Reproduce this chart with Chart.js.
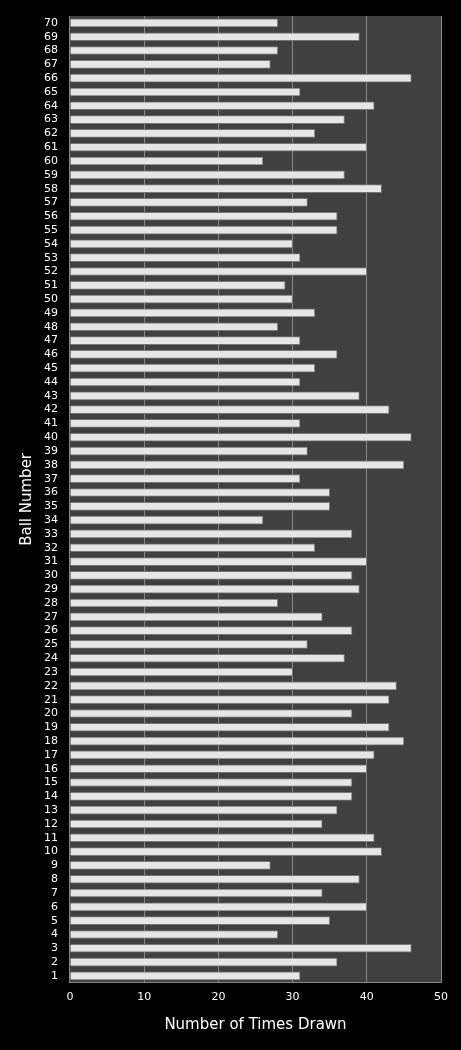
<!DOCTYPE html>
<html><head><meta charset="utf-8">
<script src="https://cdn.jsdelivr.net/npm/chart.js@4"></script>
<style>html,body{margin:0;padding:0;background:#000;}#w{width:461px;height:1050px;}</style>
</head><body><div id="w"><canvas id="c"></canvas></div>
<script>
const categories = Array.from({length:70},(_,i)=>String(i+1));
const timesDrawn = [31,36,46,28,35,40,34,39,27,42,41,34,36,38,38,40,41,45,43,38,43,44,30,37,32,38,34,28,39,38,40,33,38,26,35,35,31,45,32,46,31,43,39,31,33,36,31,28,33,30,29,40,31,30,36,36,32,42,37,26,40,33,37,41,31,46,27,28,39,28];
const xTicks = [0,10,20,30,40,50];
const plotBg = {id:'plotBg',beforeDraw(ch){const a=ch.chartArea,c=ch.ctx;c.save();c.fillStyle='#404040';c.fillRect(a.left,a.top,a.right-a.left,a.bottom-a.top);c.restore();}};
new Chart(document.getElementById('c'),{
  type:'bar',
  data:{labels:categories,datasets:[{data:timesDrawn,
    backgroundColor:(ctx)=>{const el=ctx.element; if(!el||el.y===undefined) return '#e6e6e6';
      const g=ctx.chart.ctx.createLinearGradient(0,el.y-4,0,el.y+4);
      g.addColorStop(0,'#ffffff');g.addColorStop(0.5,'#e0e0e0');g.addColorStop(1,'#8a8a8a');return g;},
    borderColor:'#777',borderWidth:1,barThickness:8}]},
  options:{indexAxis:'y',responsive:true,maintainAspectRatio:false,animation:false,
    layout:{padding:{top:16,right:20,left:14,bottom:12}},
    plugins:{legend:{display:false},tooltip:{enabled:false}},
    scales:{
      x:{min:0,max:50,afterBuildTicks:(s)=>{s.ticks=xTicks.map(v=>({value:v}));},
        grid:{color:'#888',drawTicks:false},border:{color:'#888'},
        ticks:{color:'#fff',font:{family:'DejaVu Sans',size:11},padding:8},
        title:{display:true,text:'Number of Times Drawn',color:'#fff',font:{family:'DejaVu Sans',size:15}}},
      y:{reverse:true,grid:{display:false},border:{color:'#888'},
        ticks:{color:'#fff',font:{family:'DejaVu Sans',size:11},autoSkip:false,padding:4},
        title:{display:true,text:'Ball Number',color:'#fff',font:{family:'DejaVu Sans',size:15}}}
    }},
  plugins:[plotBg]
});
</script></body></html>
